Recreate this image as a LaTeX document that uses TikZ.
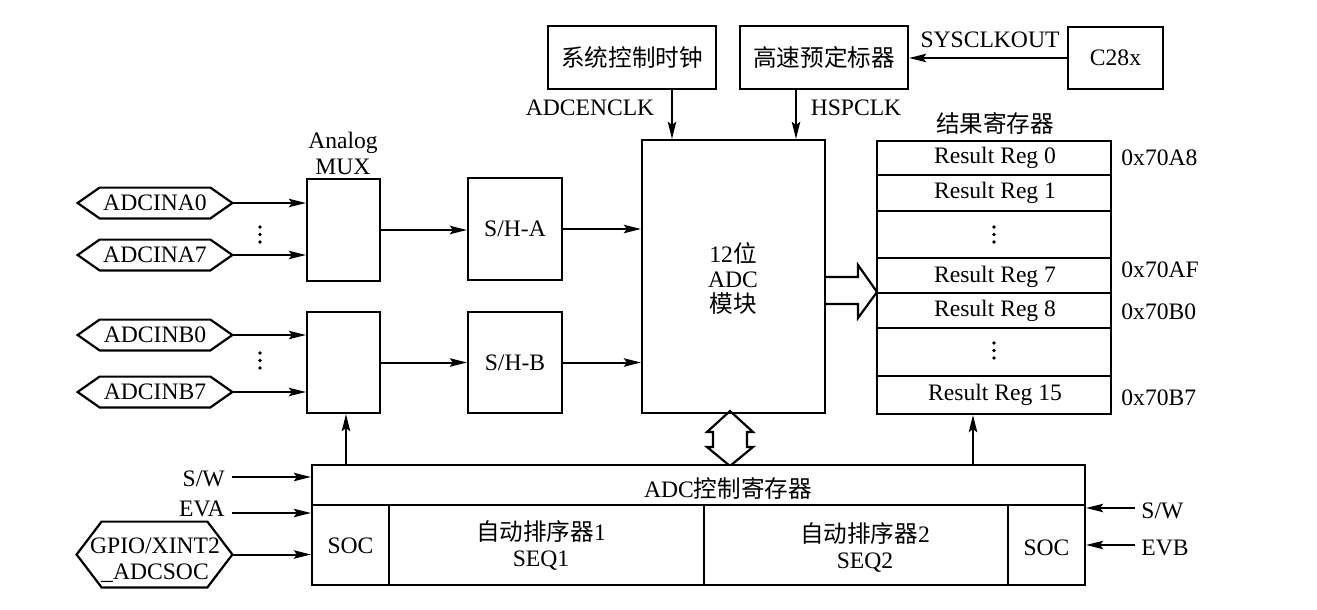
\documentclass[tikz,border=0pt]{standalone}
\usepackage{fontspec}
\setmainfont{Liberation Serif}
\newfontfamily\cjk{Noto Sans CJK SC}
\usetikzlibrary{arrows.meta,calc}
\newcommand\hexdraw[2]{%
  \draw[boxline] (#1.west) -- ($(#1.north west)+(#2,0)$) -- ($(#1.north east)+(-#2,0)$) -- (#1.east)
    -- ($(#1.south east)+(-#2,0)$) -- ($(#1.south west)+(#2,0)$) -- cycle;}
\begin{document}
\begin{tikzpicture}[x=0.5pt,y=-0.5pt,
  every node/.style={font=\fontsize{11.8pt}{13pt}\selectfont, inner sep=0pt, align=center},
  boxline/.style={draw=black, line width=1.1pt, line join=miter},
  blk/.style={boxline, rectangle, fill=white},
  hexnode/.style={rectangle, minimum height=15pt},
  arr/.style={draw=black, line width=1pt, -{Stealth[length=8.5pt,width=4.2pt,inset=1.5pt]}},
  dot/.style={fill=black, draw=none}
]
\useasboundingbox (0,0) rectangle (1317,610);
\fill[white] (0,0) rectangle (1317,610);

% wide data arrow ADC -> result registers (drawn first, under the boxes)
\draw[boxline, fill=white] (825,277) -- (858,277) -- (858,265) -- (877,292) -- (858,318) -- (858,304) -- (825,304);
% double-headed bus arrow ADC <-> control
\draw[boxline, fill=white] (730,411) -- (753,432) -- (747,432) -- (747,447) -- (753,447) -- (730,466)
  -- (707,447) -- (713,447) -- (713,432) -- (707,432) -- cycle;

% top clock boxes
\node[blk, minimum width=84pt, minimum height=31.5pt] (sysclk) at (632,57.5) {\cjk 系统控制时钟};
\node[blk, minimum width=84pt, minimum height=31.5pt] (hsp) at (824,57.5) {\cjk 高速预定标器};
\node[blk, minimum width=47.5pt, minimum height=31pt] (c28) at (1115.5,58) {C28x};
\node (sysclklbl) at (990,40) {SYSCLKOUT};
\node (adcenclk) at (590,108) {ADCENCLK};
\node (hspclk) at (856,108) {HSPCLK};

% ADC core
\node[draw=black, line width=1.1pt, rectangle, minimum width=91.5pt, minimum height=136.5pt] (adc) at (733.5,276.5) {};
\node (adctext) at (733,278) {12{\cjk 位}\\[-0.5pt]ADC\\[-0.5pt]{\cjk 模块}};

% sample and hold
\node[blk, minimum width=47pt, minimum height=51pt] (sha) at (515,229) {S/H-A};
\node[blk, minimum width=47pt, minimum height=50.5pt] (shb) at (515,362.5) {S/H-B};

% MUXes
\node[blk, minimum width=36.5pt, minimum height=51pt] (muxa) at (343.5,230) {};
\node[blk, minimum width=36.5pt, minimum height=50.5pt] (muxb) at (343.5,362.5) {};
\node (muxlbl) at (343,153) {Analog\\MUX};

% analog input hexagons
\node[hexnode, minimum width=77pt] (a0) at (155,203) {ADCINA0};
\node[hexnode, minimum width=77pt] (a7) at (155,255) {ADCINA7};
\node[hexnode, minimum width=77pt] (b0) at (155,335) {ADCINB0};
\node[hexnode, minimum width=77pt] (b7) at (155,392) {ADCINB7};
\node[rectangle, minimum width=77.5pt, minimum height=32.5pt] (gpio) at (154.5,554.5) {};
\node (gpiotxt) at (155,560) {GPIO/XINT2\\\_ADCSOC};
\hexdraw{a0}{22}
\hexdraw{a7}{22}
\hexdraw{b0}{22}
\hexdraw{b7}{22}
\hexdraw{gpio}{25}

% dots near inputs
\foreach \yy in {227,234.5,242} \fill[dot] (260,\yy) circle (1.9);
\foreach \yy in {353,360.5,368} \fill[dot] (260,\yy) circle (1.9);

% result registers
\node[blk, minimum width=117pt, minimum height=136.5pt] (res) at (994,277.5) {};
\foreach \yy in {175,211,258,293,328,376} \draw[boxline] (877,\yy) -- (1111,\yy);
\node (r0) at (995,158) {Result Reg 0};
\node (r1) at (995,193) {Result Reg 1};
\node (r7) at (995,277) {Result Reg 7};
\node (r8) at (995,311) {Result Reg 8};
\node (r15) at (995,395) {Result Reg 15};
\foreach \yy in {227,234.5,242} \fill[dot] (994,\yy) circle (1.9);
\foreach \yy in {343,350.5,358} \fill[dot] (994,\yy) circle (1.9);
\node (reslbl) at (995,123) {\cjk 结果寄存器};
\node[anchor=west] (ad0) at (1121,158) {0x70A8};
\node[anchor=west] (ad7) at (1121,270) {0x70AF};
\node[anchor=west] (ad8) at (1121,312) {0x70B0};
\node[anchor=west] (ad15) at (1121,398) {0x70B7};

% control register block
\node[blk, minimum width=386.5pt, minimum height=60pt] (ctrl) at (698.5,525) {};
\draw[boxline] (312,505) -- (1085,505);
\draw[boxline] (389,505) -- (389,585);
\draw[boxline] (704,505) -- (704,585);
\draw[boxline] (1008,505) -- (1008,585);
\node (ctrltxt) at (728,488) {ADC{\cjk 控制寄存器}};
\node (soc1) at (350.5,546) {SOC};
\node (seq1) at (541,545) {{\cjk 自动排序器}1\\SEQ1};
\node (seq2) at (865,547) {{\cjk 自动排序器}2\\SEQ2};
\node (soc2) at (1046.5,548) {SOC};

% control input labels
\node[anchor=east] (swl) at (225,479) {S/W};
\node[anchor=east] (eva) at (225,509) {EVA};
\node[anchor=west] (swr) at (1141,511) {S/W};
\node[anchor=west] (evb) at (1141,548) {EVB};
\coordinate (swlo) at (232,477);
\coordinate (evao) at (232,513);
\coordinate (swro) at (1135,508);
\coordinate (evbo) at (1135,545);

% connectors
\draw[arr] (a0.east) -- (a0.east -| muxa.west);
\draw[arr] (a7.east) -- (a7.east -| muxa.west);
\draw[arr] (b0.east) -- (b0.east -| muxb.west);
\draw[arr] (b7.east) -- (b7.east -| muxb.west);
\draw[arr] (muxa.east) -- (muxa.east -| sha.west);
\draw[arr] (muxb.east) -- (muxb.east -| shb.west);
\draw[arr] (sha.east) -- (sha.east -| adc.west);
\draw[arr] (shb.east) -- (shb.east -| adc.west);
\coordinate (sysout) at ($(sysclk.south)+(40,0)$);
\coordinate (hspout) at ($(hsp.south)+(-28,0)$);
\draw[arr] (sysout) -- (sysout |- adc.north);
\draw[arr] (hspout) -- (hspout |- adc.north);
\draw[arr] (c28.west) -- (c28.west -| hsp.east);
\coordinate (muxbin) at ($(muxb.south)+(2.5,0)$);
\draw[arr] (muxbin |- ctrl.north) -- (muxbin);
\coordinate (resin) at ($(res.south)+(-21,0)$);
\draw[arr] (resin |- ctrl.north) -- (resin);
\draw[arr] (swlo) -- (swlo -| ctrl.west);
\draw[arr] (evao) -- (evao -| ctrl.west);
\draw[arr] (gpio.east) -- (gpio.east -| ctrl.west);
\draw[arr] (swro) -- (swro -| ctrl.east);
\draw[arr] (evbo) -- (evbo -| ctrl.east);
\end{tikzpicture}
\end{document}
